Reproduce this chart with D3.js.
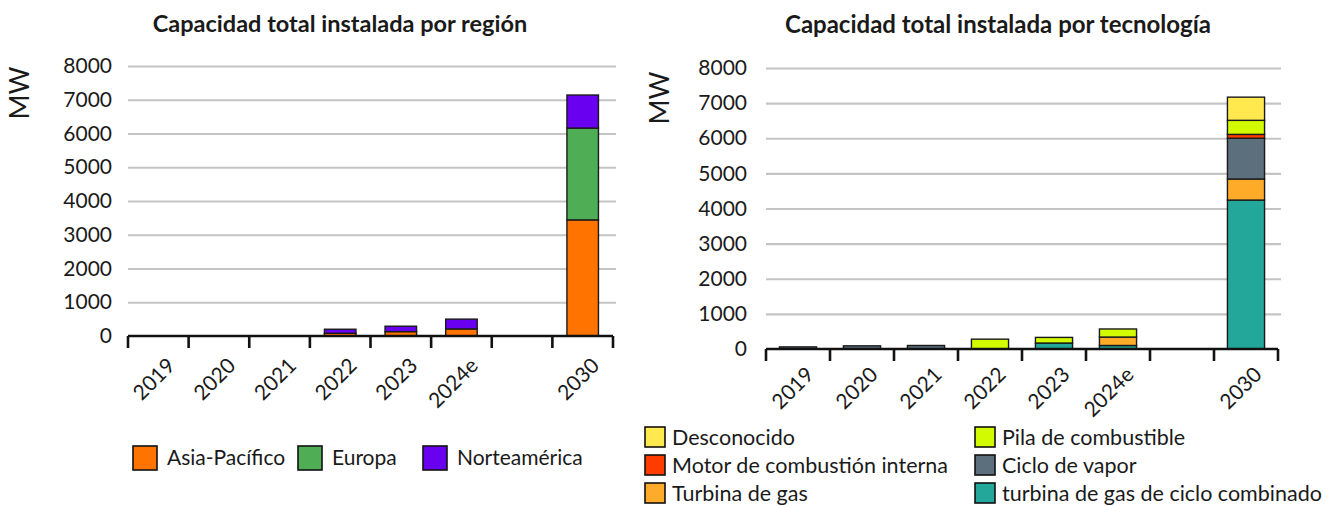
<!DOCTYPE html>
<html>
<head>
<meta charset="utf-8">
<script src="https://cdn.jsdelivr.net/npm/d3@7"></script>
<style>
body{margin:0;background:#fff}
text{font-family:Lato,"Open Sans",sans-serif;fill:#1a1a1a}
</style>
</head>
<body>
<svg id="chart"></svg>
<script>
// categories (the empty one is the gap before 2030)
var years = ["2019","2020","2021","2022","2023","2024e","","2030"];
var yTicks = [0,1000,2000,3000,4000,5000,6000,7000,8000];

// by region (MW)
var regions = ["Asia-Pacífico","Europa","Norteamérica"];
var asiaPacifico = [0,0,0,80,130,210,0,3440];
var europa       = [0,0,0,0,0,0,0,2720];
var norteamerica = [0,0,0,120,160,290,0,980];
var regionColors = ["#ff7300","#4fae55","#6a00f0"];

// by technology (MW), bottom to top
var technologies = ["turbina de gas de ciclo combinado","Turbina de gas","Ciclo de vapor",
                    "Motor de combustión interna","Pila de combustible","Desconocido"];
var cicloCombinado  = [0,0,0,0,170,100,0,4240];
var turbinaGas      = [0,0,0,0,0,240,0,600];
var cicloVapor      = [60,90,100,0,0,0,0,1160];
var motorCombustion = [0,0,0,0,0,0,0,110];
var pilaCombustible = [0,0,0,280,160,230,0,400];
var desconocido     = [0,0,0,0,0,0,0,660];
var techColors = ["#22a79a","#ffab2a","#5b6f7c","#ff3c00","#d2fa00","#ffe94f"];

var svg = d3.select("#chart").attr("width",1331).attr("height",506);

function makeRows(keys,series){
  return years.map(function(y,i){
    var row = {year:y};
    keys.forEach(function(k,j){ row[k]=series[j][i]; });
    return row;
  });
}

function panel(cfg){
  var g = svg.append("g");
  var x = d3.scaleBand().domain(years).range([cfg.x0,cfg.x1]);
  var y = d3.scaleLinear().domain([0,8000]).range([cfg.y0,cfg.y1]);
  var bw = x.bandwidth();

  // title
  g.append("text")
   .attr("x",cfg.titleX).attr("y",cfg.titleY)
   .attr("text-anchor","middle")
   .style("font-size",cfg.titleSize).style("font-weight","bold")
   .text(cfg.title);

  // MW label
  g.append("text")
   .attr("transform","translate("+cfg.mwX+","+cfg.mwY+") rotate(-90)")
   .attr("text-anchor","middle").attr("dy","0.35em")
   .style("font-size","27px")
   .text("MW");

  // grid
  g.append("g")
   .attr("transform","translate("+cfg.x0+",0)")
   .call(d3.axisLeft(y).tickValues(yTicks.slice(1)).tickSize(-(cfg.x1-cfg.x0+3)).tickFormat(""))
   .call(function(s){
     s.select(".domain").remove();
     s.selectAll("line").attr("stroke","#c4c4c4").attr("stroke-width",2.2);
   });

  // y labels
  g.append("g")
   .attr("transform","translate("+cfg.x0+",0)")
   .call(d3.axisLeft(y).tickValues(yTicks).tickSize(0).tickPadding(cfg.pad).tickFormat(d3.format("d")))
   .call(function(s){
     s.select(".domain").remove();
     s.selectAll("text").style("font-size","21px").style("font-family","Lato,sans-serif").attr("fill","#1a1a1a");
   });

  // bars
  var rows = makeRows(cfg.keys,cfg.series);
  var stacked = d3.stack().keys(cfg.keys)(rows);
  var barW = bw*cfg.barFrac;
  g.selectAll(".layer").data(stacked).enter().append("g")
   .attr("fill",function(d,i){return cfg.colors[i];})
   .selectAll("rect").data(function(d){return d.filter(function(p){return p[1]>p[0];});})
   .enter().append("rect")
   .attr("x",function(d){return x(d.data.year)+(bw-barW)/2;})
   .attr("width",barW)
   .attr("y",function(d){return y(d[1]);})
   .attr("height",function(d){return Math.max(1,y(d[0])-y(d[1]));})
   .attr("stroke","#1a1a1a").attr("stroke-width",1.4);

  // baseline with ticks at the band edges
  var edges = years.map(function(d){return x(d);}).concat([cfg.x1]);
  var ax = g.append("g");
  ax.append("line")
    .attr("x1",cfg.x0).attr("x2",cfg.x1)
    .attr("y1",cfg.y0).attr("y2",cfg.y0)
    .attr("stroke","#111").attr("stroke-width",2.6);
  ax.selectAll(".tk").data(edges).enter().append("line")
    .attr("x1",function(d){return d;}).attr("x2",function(d){return d;})
    .attr("y1",cfg.y0).attr("y2",cfg.y0+12)
    .attr("stroke","#111").attr("stroke-width",2.6);
  ax.selectAll(".lbl").data(years.filter(function(d){return d!=="";})).enter().append("text")
    .attr("transform",function(d){
      return "translate("+(x(d)+bw/2+cfg.lblDx)+","+(cfg.y0+cfg.lblDy)+") rotate(-45)";
    })
    .attr("text-anchor","end")
    .style("font-size","21px")
    .text(function(d){return d;});

  // legend
  g.selectAll(".lg").data(cfg.legend).enter().append("g")
   .each(function(d){
     var it = d3.select(this);
     it.append("rect")
       .attr("x",d.x).attr("y",d.y-cfg.sw/2)
       .attr("width",cfg.sw).attr("height",cfg.sw)
       .attr("fill",cfg.colors[cfg.keys.indexOf(d.key)])
       .attr("stroke","#111").attr("stroke-width",1.6);
     it.append("text")
       .attr("x",d.x+cfg.sw+cfg.gap).attr("y",d.y).attr("dy","0.35em")
       .style("font-size",cfg.legSize)
       .text(d.key);
   });
}

panel({
  title:"Capacidad total instalada por región", titleX:340, titleY:32, titleSize:"23.5px",
  mwX:20, mwY:93,
  x0:128, x1:613, y0:336, y1:66, pad:16,
  keys:regions, series:[asiaPacifico,europa,norteamerica], colors:regionColors,
  barFrac:0.52, lblDx:18, lblDy:31,
  sw:24, gap:10, legSize:"21px",
  legend:[{key:"Asia-Pacífico",x:133,y:458},{key:"Europa",x:298,y:458},{key:"Norteamérica",x:423,y:458}]
});

panel({
  title:"Capacidad total instalada por tecnología", titleX:998, titleY:33, titleSize:"24px",
  mwX:660, mwY:98,
  x0:766, x1:1278, y0:349, y1:68, pad:19,
  keys:technologies,
  series:[cicloCombinado,turbinaGas,cicloVapor,motorCombustion,pilaCombustible,desconocido],
  colors:techColors,
  barFrac:0.58, lblDx:17, lblDy:27,
  sw:20, gap:7, legSize:"21.5px",
  legend:[
    {key:"Desconocido",x:645,y:437},
    {key:"Motor de combustión interna",x:645,y:465},
    {key:"Turbina de gas",x:645,y:493},
    {key:"Pila de combustible",x:975,y:437},
    {key:"Ciclo de vapor",x:975,y:465},
    {key:"turbina de gas de ciclo combinado",x:975,y:493}
  ]
});
</script>
</body>
</html>
